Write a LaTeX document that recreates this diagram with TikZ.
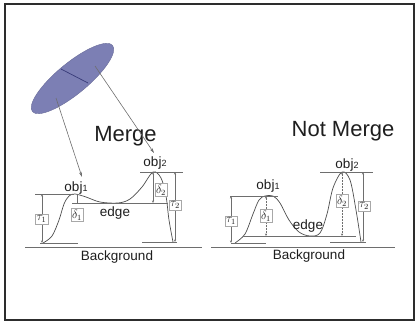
\documentclass[tikz,border=0pt]{standalone}
\usepackage{fontspec}
\setmainfont{Liberation Sans}
\usetikzlibrary{shapes.geometric,arrows.meta}
\definecolor{framecol}{RGB}{45,45,45}
\definecolor{ink}{RGB}{30,30,30}
\definecolor{guidecol}{RGB}{110,110,110}
\definecolor{blob}{RGB}{124,127,180}
\definecolor{blobline}{RGB}{55,58,120}
\begin{document}
\begin{tikzpicture}[x=1pt,y=-1pt,
  title/.style={font=\fontsize{22}{24}\selectfont, text=ink, inner sep=0pt, anchor=base},
  lbl/.style={font=\fontsize{13.5}{15}\selectfont, text=ink, inner sep=0pt},
  guide/.style={draw=guidecol, line width=0.5pt},
  meas/.style={draw=guidecol, line width=0.5pt, {Stealth[length=2.5pt,width=2pt]}-{Stealth[length=2.5pt,width=2pt]}},
  dmeas/.style={meas, densely dotted},
  tag/.style={draw=guidecol!60, fill=white, inner sep=1.3pt, font=\fontsize{12}{13}\selectfont, text=ink},
  profile/.style={draw=guidecol!70!black, line width=0.7pt},
  pointer/.style={draw=guidecol, line width=0.6pt, -{Stealth[length=5pt,width=3pt]}, shorten >=0pt}
]
\useasboundingbox (0,0) rectangle (416,322);
\draw[framecol, line width=2pt] (5,4) rectangle (414,320);

% the region blob and its split
\node[ellipse, minimum width=104pt, minimum height=31pt, rotate=39.5,
      fill=blob, draw=blob!85!black, line width=0.4pt] (blobn) at (72.5,78.5) {};
\coordinate (sa) at (61,69);
\coordinate (sb) at (88,83);
\draw[blobline, line width=0.7pt] (sa) -- (sb);

% ---------- left panel: Merge ----------
\node[title] (merge) at (125.5,141) {Merge};
\coordinate (p1) at (56,98);
\coordinate (p2) at (95,66);
\coordinate (t1) at (82,177);
\coordinate (t2) at (154,153);
\draw[pointer] (p1) -- (t1);
\draw[pointer] (p2) -- (t2);

\draw[profile] plot[smooth, tension=0.55] coordinates
  {(43,243) (52,236) (59,220) (64,204) (69,196) (75,194) (86,197) (100,202) (118,203) (130,199) (142,187) (153,172) (161,178) (166,196) (169,220) (173,242)};

\draw[guide] (35,194) -- (74,194);
\draw[guide] (40,243) -- (78,243);
\draw[guide] (72,203) -- (168,203);
\draw[guide] (140,172) -- (183,172);
\draw[guide] (142,242) -- (177,242);
\draw[guide] (25,247) -- (202,247);

\coordinate (lt1a) at (42,194);  \coordinate (lt1b) at (42,243);
\coordinate (ld1a) at (77,194);  \coordinate (ld1b) at (77,203);
\coordinate (ld2a) at (153,172); \coordinate (ld2b) at (153,203);
\coordinate (lt2a) at (175,172); \coordinate (lt2b) at (175,242);
\draw[meas] (lt1a) -- (lt1b);
\draw[guide] (ld1a) -- (ld1b);
\draw[meas] (ld2a) -- (ld2b);
\draw[meas] (lt2a) -- (lt2b);
\node[tag] (ltau1) at (41.5,219) {$\tau_1$};
\node[tag] (ldel1) at (77,215) {$\delta_1$};
\node[tag] (ldel2) at (161,190) {$\delta_2$};
\node[tag] (ltau2) at (175,205) {$\tau_2$};

\node[lbl] (lobj1) at (76,188) {obj{\fontsize{9}{10}\selectfont 1}};
\node[lbl] (lobj2) at (155,163) {obj{\fontsize{9}{10}\selectfont 2}};
\node[lbl] (ledge) at (115,213) {edge};
\node[lbl] (lbg) at (117,257) {Background};

% ---------- right panel: Not Merge ----------
\node[title] (nmerge) at (343,136) {Not Merge};

\draw[profile] plot[smooth, tension=0.55] coordinates
  {(235,243) (245,234) (253,214) (259,200) (265,196) (273,196) (280,203) (289,220) (299,232) (310,236) (320,233) (327,214) (333,188) (342,172) (350,180) (356,210) (361,242)};

\draw[guide] (230,196) -- (278,196);
\draw[guide] (231,243) -- (266,243);
\draw[guide] (243,236) -- (356,236);
\draw[guide] (320,172) -- (373,172);
\draw[guide] (330,242) -- (366,242);
\draw[guide] (211,247) -- (395,247);

\coordinate (rt1a) at (231,196); \coordinate (rt1b) at (231,243);
\coordinate (rd1a) at (266,196); \coordinate (rd1b) at (266,236);
\coordinate (rd2a) at (342,172); \coordinate (rd2b) at (342,236);
\coordinate (rt2a) at (363,172); \coordinate (rt2b) at (363,242);
\draw[meas] (rt1a) -- (rt1b);
\draw[dmeas] (rd1a) -- (rd1b);
\draw[dmeas] (rd2a) -- (rd2b);
\draw[meas] (rt2a) -- (rt2b);
\node[tag] (rtau1) at (231,221) {$\tau_1$};
\node[tag] (rdel1) at (266,216) {$\delta_1$};
\node[tag] (rdel2) at (342,201) {$\delta_2$};
\node[tag] (rtau2) at (364,206) {$\tau_2$};

\node[lbl] (robj1) at (268,186) {obj{\fontsize{9}{10}\selectfont 1}};
\node[lbl] (robj2) at (347,165) {obj{\fontsize{9}{10}\selectfont 2}};
\node[lbl] (redge) at (308,226) {edge};
\node[lbl] (rbg) at (309,256) {Background};
\end{tikzpicture}
\end{document}
